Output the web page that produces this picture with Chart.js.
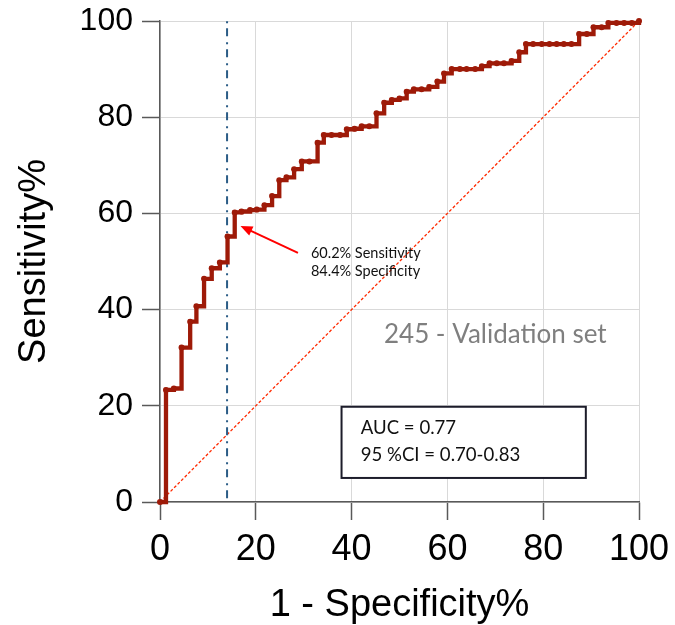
<!DOCTYPE html>
<html>
<head>
<meta charset="utf-8">
<script src="https://cdn.jsdelivr.net/npm/chart.js@4.4.1/dist/chart.umd.min.js"></script>
<style>
  html, body { margin: 0; padding: 0; background: #fff; }
  #wrap { width: 675px; height: 625px; }
</style>
</head>
<body>
<div id="wrap"><canvas id="roc" width="675" height="625"></canvas></div>
<script>
// ROC curve (1 - specificity %, sensitivity %)
const fpr = [0, 1.25, 2.9, 4.5, 6.3, 7.6, 9.2, 10.8, 12.5, 14.1, 15.6, 17.0, 18.8, 20.2, 21.8, 23.4,
  24.9, 26.4, 28.0, 29.6, 31.2, 32.9, 34.2, 35.8, 37.6, 39.0, 40.6, 42.1, 43.7, 45.2, 46.8, 48.4,
  50.0, 51.5, 53.0, 54.6, 56.2, 57.9, 59.3, 60.9, 62.6, 64.0, 65.8, 67.2, 68.8, 70.3, 71.8, 73.4,
  75.0, 76.4, 77.9, 79.7, 81.3, 82.8, 84.3, 85.9, 87.5, 89.1, 90.5, 92.2, 93.6, 95.3, 96.9, 98.5, 100];
const tpr = [0, 23.3, 23.6, 32.1, 37.5, 40.7, 46.4, 48.6, 49.8, 55.2, 60.2, 60.4, 60.7, 60.8, 61.7, 63.6,
  66.9, 67.5, 69.2, 70.8, 70.8, 74.7, 76.3, 76.3, 76.3, 77.5, 77.6, 78.1, 78.1, 80.8, 83.0, 83.6,
  83.9, 85.3, 85.8, 85.8, 86.3, 87.4, 89.1, 90.0, 90.0, 90.0, 90.0, 90.6, 91.2, 91.2, 91.2, 91.7,
  93.5, 95.2, 95.2, 95.2, 95.2, 95.2, 95.2, 95.2, 97.3, 97.3, 98.7, 98.7, 99.6, 99.6, 99.6, 99.6, 100];

const refLineX = [0, 100];
const refLineY = [0, 100];
const cutoffX = 14.0;
const cutoffY = [0.8, 100];
const axisTicks = [0, 20, 40, 60, 80, 100];

const cutSens = '60.2% Sensitivity';
const cutSpec = '84.4% Specificity';
const setLabel = '245 - Validation set';
const aucLines = ['AUC = 0.77', '95 %CI = 0.70-0.83'];

const rocPoints = fpr.map((x, i) => ({ x: x, y: tpr[i] }));
const diagPoints = refLineX.map((x, i) => ({ x: x, y: refLineY[i] }));
const cutPoints = cutoffY.map(y => ({ x: cutoffX, y: y }));

// arrow, texts and AUC box, placed in data units
const annotations = {
  id: 'annotations',
  afterDraw(chart) {
    const ctx = chart.ctx;
    const xs = chart.scales.x, ys = chart.scales.y;
    const px = v => xs.getPixelForValue(v);
    const py = v => ys.getPixelForValue(v);
    ctx.save();

    // arrow to the cut-off point
    const x0 = px(28.8), y0 = py(51.8), x1 = px(16.8), y1 = py(57.4);
    const ang = Math.atan2(y1 - y0, x1 - x0);
    ctx.strokeStyle = '#ff0000';
    ctx.fillStyle = '#ff0000';
    ctx.lineWidth = 2;
    ctx.beginPath();
    ctx.moveTo(x0, y0);
    ctx.lineTo(x1 - 8 * Math.cos(ang), y1 - 8 * Math.sin(ang));
    ctx.stroke();
    ctx.beginPath();
    ctx.moveTo(x1, y1);
    ctx.lineTo(x1 - 12 * Math.cos(ang) + 5 * Math.sin(ang), y1 - 12 * Math.sin(ang) - 5 * Math.cos(ang));
    ctx.lineTo(x1 - 12 * Math.cos(ang) - 5 * Math.sin(ang), y1 - 12 * Math.sin(ang) + 5 * Math.cos(ang));
    ctx.closePath();
    ctx.fill();

    ctx.fillStyle = '#111';
    ctx.font = '14.5px Lato';
    ctx.textAlign = 'left';
    ctx.textBaseline = 'middle';
    ctx.fillText(cutSens, px(31.5), py(51.6));
    ctx.fillText(cutSpec, px(31.5), py(47.9));

    ctx.fillStyle = '#7f7f7f';
    ctx.font = '26px Lato';
    ctx.textAlign = 'center';
    ctx.fillText(setLabel, px(70), py(34.8));

    // AUC box
    const bl = px(37.9), br = px(88.9), bt = py(19.8), bb = py(5.0);
    ctx.fillStyle = '#fff';
    ctx.fillRect(bl, bt, br - bl, bb - bt);
    ctx.strokeStyle = '#1c1c2a';
    ctx.lineWidth = 2;
    ctx.strokeRect(bl, bt, br - bl, bb - bt);
    ctx.fillStyle = '#111';
    ctx.font = '18.6px Lato';
    ctx.textAlign = 'left';
    ctx.fillText(aucLines[0], px(41.9), py(15.4));
    ctx.fillText(aucLines[1], px(41.9), py(9.8));
    ctx.restore();
  }
};

const axisStyle = (title, size, titlePad, tickPad) => ({
  type: 'linear',
  min: 0,
  max: 100,
  afterBuildTicks: s => { s.ticks = axisTicks.map(v => ({ value: v })); },
  grid: { color: '#d9d9d9', lineWidth: 1, tickLength: 18, tickColor: '#595959', tickWidth: 1.5 },
  border: { color: '#595959', width: 1.5 },
  ticks: { color: '#000', padding: tickPad, font: { family: 'Liberation Sans, Arial', size: size } },
  title: { display: true, text: title, color: '#000', padding: titlePad,
    font: { family: 'Liberation Sans, Arial', size: 38, lineHeight: 1 } }
});

// fixed axis boxes so the plot area lands where the picture has it
const noOverflow = s => { s.paddingTop = 0; s.paddingBottom = 0; s.paddingLeft = 0; s.paddingRight = 0; };
const xAxis = axisStyle('1 - Specificity%', 36, { top: 0, bottom: 0 }, 8);
xAxis.afterFit = s => { s.height = 123; noOverflow(s); };
const yAxis = axisStyle('Sensitivity%', 32, { top: 16, bottom: 0 }, 9);
yAxis.afterFit = s => { s.width = 160; noOverflow(s); };

new Chart(document.getElementById('roc'), {
  type: 'line',
  data: {
    datasets: [
      {
        label: 'ROC',
        data: rocPoints,
        stepped: 'before',
        borderColor: '#9e1a08',
        backgroundColor: '#9e1a08',
        borderWidth: 4.3,
        pointRadius: 3,
        pointBorderWidth: 0,
        clip: false,
        order: 1
      },
      {
        label: 'Reference',
        data: diagPoints,
        borderColor: '#ff2a00',
        borderWidth: 1.3,
        borderDash: [3, 2],
        pointRadius: 0,
        clip: false,
        order: 3
      },
      {
        label: 'Cut-off',
        data: cutPoints,
        borderColor: '#2b5c86',
        borderWidth: 2,
        borderDash: [8, 5, 2, 6],
        pointRadius: 0,
        clip: false,
        order: 2
      }
    ]
  },
  options: {
    responsive: false,
    animation: false,
    parsing: false,
    layout: { padding: { left: 0, right: 36, top: 21, bottom: 0 } },
    plugins: { legend: { display: false }, tooltip: { enabled: false } },
    scales: { x: xAxis, y: yAxis }
  },
  plugins: [annotations]
});
</script>
</body>
</html>
